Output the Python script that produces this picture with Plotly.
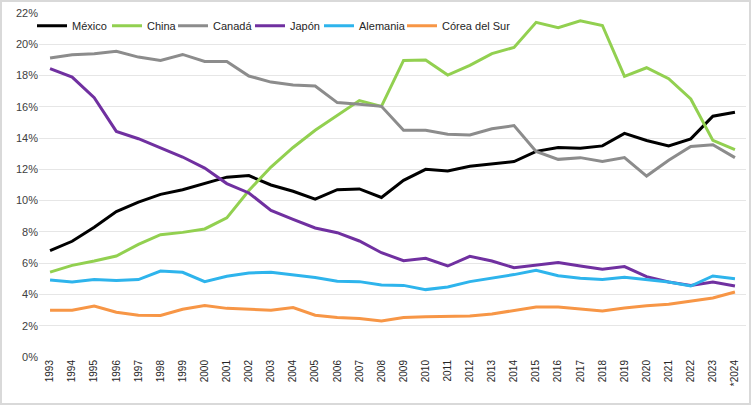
import plotly.graph_objects as go

years = [str(y) for y in range(1993, 2024)] + ["*2024"]

mexico = [6.8, 7.4, 8.3, 9.3, 9.9, 10.4, 10.7, 11.1, 11.5, 11.6, 11.0, 10.6, 10.1, 10.7, 10.75, 10.2,
          11.3, 12.0, 11.9, 12.2, 12.35, 12.5, 13.15, 13.4, 13.35, 13.5, 14.3, 13.85, 13.5, 13.95, 15.4, 15.65]
china = [5.43, 5.86, 6.14, 6.46, 7.2, 7.82, 7.97, 8.19, 8.9, 10.65, 12.15, 13.4, 14.5, 15.45, 16.4, 16.03,
         18.97, 19.0, 18.03, 18.65, 19.4, 19.8, 21.4, 21.06, 21.5, 21.2, 17.95, 18.5, 17.8, 16.5, 13.85, 13.26]
canada = [19.12, 19.33, 19.4, 19.55, 19.18, 18.97, 19.35, 18.9, 18.9, 17.97, 17.58, 17.4, 17.33, 16.27, 16.16, 16.03,
          14.5, 14.5, 14.24, 14.2, 14.6, 14.8, 13.15, 12.64, 12.75, 12.5, 12.75, 11.57, 12.58, 13.47, 13.58, 12.75]
japon = [18.44, 17.9, 16.58, 14.43, 13.96, 13.36, 12.79, 12.08, 11.09, 10.49, 9.38, 8.8, 8.25, 7.95, 7.42, 6.67,
         6.16, 6.31, 5.82, 6.44, 6.14, 5.71, 5.86, 6.05, 5.82, 5.61, 5.78, 5.14, 4.8, 4.58, 4.8, 4.54]
alemania = [4.92, 4.8, 4.95, 4.9, 4.95, 5.5, 5.42, 4.82, 5.16, 5.37, 5.42, 5.27, 5.08, 4.84, 4.82, 4.6,
            4.58, 4.31, 4.48, 4.82, 5.03, 5.27, 5.54, 5.2, 5.03, 4.95, 5.1, 4.95, 4.8, 4.54, 5.18, 5.01]
corea = [2.99, 2.99, 3.26, 2.86, 2.67, 2.65, 3.05, 3.3, 3.11, 3.07, 2.99, 3.16, 2.67, 2.52, 2.46, 2.3,
         2.52, 2.58, 2.58, 2.62, 2.75, 2.97, 3.2, 3.2, 3.09, 2.94, 3.13, 3.28, 3.37, 3.56, 3.77, 4.16]

series = [
    ("México", mexico, "#000000"),
    ("China", china, "#92d050"),
    ("Canadá", canada, "#8c8c8c"),
    ("Japón", japon, "#7030a0"),
    ("Alemania", alemania, "#2eb4ec"),
    ("Córea del Sur", corea, "#f79646"),
]

W, H = 753, 407
ml, mr, mt, mb = 39, 7, 13, 50
pw, ph = W - ml - mr, H - mt - mb

# pixel x where each legend label starts (spread a bit so plotly's longer samples don't overlap)
legend_text_x = [72, 147, 213, 290, 359, 442]

fig = go.Figure()
legends = {}
for i, (name, vals, color) in enumerate(series):
    key = "legend" if i == 0 else f"legend{i + 1}"
    fig.add_trace(go.Scatter(x=years, y=[v / 100 for v in vals], name=name, mode="lines",
                             line=dict(color=color, width=3), legend=key))
    legends[key] = dict(x=(legend_text_x[i] - 40 - ml) / pw, y=1.005, xanchor="left", yanchor="top",
                        orientation="h", bgcolor="rgba(0,0,0,0)", itemwidth=30,
                        font=dict(size=11, color="#262626"))

fig.update_layout(
    width=W, height=H,
    margin=dict(l=ml, r=mr, t=mt, b=mb),
    paper_bgcolor="white", plot_bgcolor="white",
    font=dict(family="Liberation Sans, Arial", size=11, color="#404040"),
    showlegend=True,
    xaxis=dict(type="category", range=[-0.5, len(years) - 0.5], tickangle=-90,
               showgrid=False, zeroline=False, automargin=False,
               showline=False, ticks="", tickfont=dict(size=10, color="#262626")),
    yaxis=dict(range=[0, 0.22], dtick=0.02, tickformat=".0%", showgrid=True, automargin=False,
               gridcolor="#e6e6e6", gridwidth=1, zeroline=False, showline=False,
               tickfont=dict(size=11, color="#404040")),
    **legends,
)

# outer frame
fig.add_shape(type="rect", xref="paper", yref="paper",
              x0=-(ml - 1) / pw, x1=1 + (mr - 3) / pw,
              y0=-(mb - 3) / ph, y1=1 + (mt - 1) / ph,
              line=dict(color="#d9d9d9", width=2), fillcolor="rgba(0,0,0,0)", layer="above")

fig.write_html("out.html", config={"displayModeBar": False},
               post_script="document.body.style.margin='0';")
